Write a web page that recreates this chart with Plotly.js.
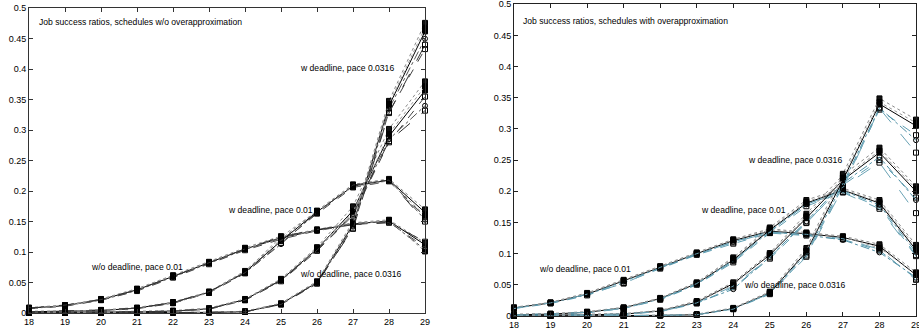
<!DOCTYPE html>
<html>
<head>
<meta charset="utf-8">
<script src="https://cdn.plot.ly/plotly-3.0.1.min.js"></script>
<style>html,body{margin:0;padding:0;background:#fff;}#chart{width:919px;height:334px;}</style>
</head>
<body>
<div id="chart"></div>
<script>
// ---------- DATA ----------
const xValues = [18, 19, 20, 21, 22, 23, 24, 25, 26, 27, 28, 29];
const yTickVals = [0, 0.05, 0.1, 0.15, 0.2, 0.25, 0.3, 0.35, 0.4, 0.45, 0.5];
const yTickText = ["0", "0.05", "0.1", "0.15", "0.2", "0.25", "0.3", "0.35", "0.4", "0.45", "0.5"];
const xTickVals = [18, 19, 20, 21, 22, 23, 24, 25, 26, 27, 28, 29];
const xTickText = ["18", "19", "20", "21", "22", "23", "24", "25", "26", "27", "28", "29"];

const leftTitle = "Job success ratios, schedules w/o overapproximation";
const rightTitle = "Job success ratios, schedules with overapproximation";

// Left panel: schedules w/o overapproximation (several runs per configuration)
const leftWoDeadline001 = [
  [0.008,0.012,0.022,0.038,0.060,0.082,0.105,0.123,0.136,0.146,0.151,0.112],
  [0.007,0.011,0.021,0.036,0.058,0.080,0.103,0.121,0.135,0.145,0.149,0.108],
  [0.009,0.013,0.023,0.040,0.062,0.084,0.107,0.126,0.137,0.148,0.153,0.115],
  [0.008,0.012,0.021,0.037,0.059,0.081,0.104,0.124,0.135,0.147,0.150,0.104],
  [0.007,0.012,0.022,0.039,0.061,0.083,0.106,0.122,0.136,0.146,0.152,0.101],
  [0.008,0.013,0.022,0.038,0.060,0.082,0.105,0.125,0.137,0.145,0.148,0.117]
];
const leftWDeadline001 = [
  [0.002,0.003,0.004,0.008,0.017,0.034,0.067,0.118,0.166,0.208,0.218,0.165],
  [0.002,0.002,0.004,0.007,0.016,0.033,0.065,0.115,0.163,0.206,0.216,0.158],
  [0.003,0.003,0.005,0.009,0.018,0.035,0.069,0.121,0.168,0.211,0.220,0.170],
  [0.002,0.003,0.004,0.008,0.016,0.034,0.066,0.113,0.165,0.209,0.219,0.153],
  [0.002,0.003,0.004,0.008,0.017,0.033,0.068,0.125,0.167,0.207,0.217,0.160],
  [0.002,0.003,0.005,0.008,0.017,0.035,0.066,0.119,0.164,0.210,0.218,0.150]
];
const leftWoDeadline0316 = [
  [0.001,0.001,0.002,0.002,0.003,0.007,0.022,0.054,0.105,0.168,0.290,0.365],
  [0.001,0.001,0.001,0.002,0.003,0.006,0.021,0.052,0.102,0.160,0.280,0.355],
  [0.001,0.001,0.002,0.003,0.004,0.008,0.023,0.056,0.108,0.175,0.302,0.380],
  [0.001,0.001,0.002,0.002,0.003,0.007,0.022,0.053,0.104,0.163,0.285,0.340],
  [0.001,0.001,0.002,0.002,0.003,0.007,0.022,0.055,0.106,0.166,0.294,0.372],
  [0.001,0.001,0.002,0.002,0.003,0.007,0.021,0.054,0.103,0.162,0.282,0.332]
];
const leftWDeadline0316 = [
  [0,0,0,0,0.001,0.001,0.002,0.015,0.050,0.145,0.340,0.462],
  [0,0,0,0,0.001,0.001,0.002,0.014,0.048,0.140,0.330,0.433],
  [0,0,0,0,0.001,0.001,0.003,0.016,0.052,0.150,0.348,0.476],
  [0,0,0,0,0.001,0.001,0.002,0.015,0.049,0.142,0.335,0.450],
  [0,0,0,0,0.001,0.001,0.002,0.015,0.051,0.147,0.343,0.468],
  [0,0,0,0,0.000,0.001,0.002,0.014,0.050,0.138,0.328,0.440]
];

// Right panel: schedules with overapproximation
const rightWoDeadline001 = [
  [0.013,0.021,0.035,0.056,0.078,0.100,0.121,0.136,0.132,0.126,0.112,0.066],
  [0.012,0.020,0.033,0.053,0.076,0.098,0.116,0.133,0.129,0.123,0.105,0.060],
  [0.014,0.022,0.037,0.058,0.080,0.102,0.123,0.140,0.134,0.128,0.115,0.070],
  [0.013,0.021,0.034,0.055,0.077,0.099,0.119,0.135,0.130,0.122,0.102,0.062],
  [0.013,0.021,0.036,0.057,0.079,0.101,0.122,0.138,0.133,0.127,0.109,0.068],
  [0.012,0.021,0.035,0.052,0.078,0.100,0.118,0.134,0.131,0.124,0.107,0.058]
];
const rightWDeadline001 = [
  [0.002,0.003,0.006,0.013,0.028,0.052,0.090,0.138,0.181,0.202,0.181,0.106],
  [0.002,0.003,0.005,0.012,0.026,0.050,0.086,0.133,0.176,0.199,0.175,0.098],
  [0.003,0.004,0.007,0.014,0.029,0.054,0.094,0.142,0.186,0.205,0.186,0.114],
  [0.002,0.003,0.006,0.013,0.027,0.051,0.088,0.136,0.179,0.201,0.178,0.102],
  [0.002,0.003,0.006,0.013,0.028,0.053,0.092,0.140,0.183,0.203,0.183,0.110],
  [0.002,0.003,0.006,0.012,0.027,0.052,0.089,0.135,0.180,0.198,0.172,0.096]
];
const rightWoDeadline0316 = [
  [0.001,0.001,0.002,0.003,0.008,0.022,0.052,0.098,0.157,0.218,0.262,0.200],
  [0.001,0.001,0.002,0.003,0.007,0.020,0.046,0.092,0.149,0.210,0.250,0.190],
  [0.001,0.002,0.003,0.004,0.009,0.024,0.054,0.101,0.164,0.226,0.270,0.208],
  [0.001,0.001,0.002,0.003,0.008,0.021,0.043,0.095,0.152,0.213,0.255,0.186],
  [0.001,0.001,0.002,0.003,0.008,0.023,0.050,0.099,0.160,0.221,0.265,0.204],
  [0.001,0.001,0.002,0.003,0.007,0.021,0.048,0.094,0.150,0.207,0.246,0.165]
];
const rightWDeadline0316 = [
  [0,0,0,0,0.001,0.002,0.012,0.037,0.103,0.218,0.340,0.305],
  [0,0,0,0,0.001,0.002,0.011,0.035,0.097,0.208,0.331,0.290],
  [0,0,0,0,0.001,0.003,0.013,0.039,0.109,0.228,0.349,0.315],
  [0,0,0,0,0.001,0.002,0.012,0.036,0.100,0.212,0.334,0.282],
  [0,0,0,0,0.001,0.002,0.012,0.038,0.105,0.222,0.343,0.310],
  [0,0,0,0,0.001,0.002,0.011,0.036,0.095,0.205,0.333,0.262]
];

// label texts and anchor points (data coordinates)
const leftLabels = [
  {text: "w deadline, pace 0.0316", x: 25.5, y: 0.402},
  {text: "w deadline, pace 0.01", x: 23.5, y: 0.169},
  {text: "w/o deadline, pace 0.01", x: 19.69, y: 0.0754},
  {text: "w/o deadline, pace 0.0316", x: 25.5, y: 0.064}
];
const rightLabels = [
  {text: "w deadline, pace 0.0316", x: 24.38, y: 0.2496},
  {text: "w deadline, pace 0.01", x: 23.1, y: 0.1696},
  {text: "w/o deadline, pace 0.01", x: 18.66, y: 0.0752},
  {text: "w/o deadline, pace 0.0316", x: 24.27, y: 0.0496}
];

// ---------- STYLES ----------
const leftStyles = [
  {color: "#000000", dash: "solid", symbol: "square", mc: "#000"},
  {color: "#444444", dash: "dash", symbol: "square-open", mc: "#000"},
  {color: "#8a8a8a", dash: "dot", symbol: "square", mc: "#111"},
  {color: "#555555", dash: "dashdot", symbol: "circle-open", mc: "#000"},
  {color: "#9a9a9a", dash: "dot", symbol: "square", mc: "#000"},
  {color: "#333333", dash: "longdash", symbol: "square-open", mc: "#000"}
];
const rightStyles = [
  {color: "#000000", dash: "solid", symbol: "square", mc: "#000"},
  {color: "#5f9fb3", dash: "dash", symbol: "square-open", mc: "#000"},
  {color: "#8a8a8a", dash: "dot", symbol: "square", mc: "#111"},
  {color: "#4f8fa5", dash: "dashdot", symbol: "circle-open", mc: "#000"},
  {color: "#9a9a9a", dash: "dot", symbol: "square", mc: "#000"},
  {color: "#6aa3b5", dash: "longdash", symbol: "square-open", mc: "#000"}
];

const traces = [];
function addGroup(runs, styles, xa, ya) {
  runs.forEach((ys, i) => {
    const s = styles[i % styles.length];
    traces.push({
      x: xValues, y: ys, xaxis: xa, yaxis: ya,
      type: "scatter", mode: "lines+markers",
      line: {color: s.color, width: 1, dash: s.dash},
      marker: {symbol: s.symbol, size: 5, color: s.mc, line: {color: "#000", width: 1}},
      cliponaxis: false, hoverinfo: "skip", showlegend: false
    });
  });
}
[leftWoDeadline001, leftWDeadline001, leftWoDeadline0316, leftWDeadline0316].forEach(g => addGroup(g, leftStyles, "x", "y"));
[rightWoDeadline001, rightWDeadline001, rightWoDeadline0316, rightWDeadline0316].forEach(g => addGroup(g, rightStyles, "x2", "y2"));

const FONT = "Liberation Sans, Arial, Helvetica, sans-serif";
function axisX(domain, anchor, lc) {
  return {
    domain: domain, anchor: anchor, range: [18, 29], autorange: false,
    tickmode: "array", tickvals: xTickVals, ticktext: xTickText,
    ticks: "inside", ticklen: 4, tickcolor: lc, tickwidth: 1,
    showline: true, linecolor: lc, linewidth: 1, mirror: "ticks",
    showgrid: false, zeroline: false, fixedrange: true,
    ticklabeloverflow: "allow",
    tickfont: {family: FONT, size: 9, color: "#000"}
  };
}
function axisY(domain, anchor, lc) {
  return {
    domain: domain, anchor: anchor, range: [0, 0.5004], autorange: false,
    tickmode: "array", tickvals: yTickVals, ticktext: yTickText,
    ticks: "inside", ticklen: 4, tickcolor: lc, tickwidth: 1,
    showline: true, linecolor: lc, linewidth: 1, mirror: "ticks",
    showgrid: false, zeroline: false, fixedrange: true,
    ticklabeloverflow: "allow",
    tickfont: {family: FONT, size: 9, color: "#000"}
  };
}

const annotations = [];
function addText(text, x, y, xref, yref) {
  annotations.push({
    text: text, x: x, y: y, xref: xref, yref: yref,
    xanchor: "left", yanchor: "middle", showarrow: false,
    font: {family: FONT, size: 8.6, color: "#000"}, borderpad: 0
  });
}
addText(leftTitle, 18.25, 0.477, "x", "y");
addText(rightTitle, 18.22, 0.4736, "x2", "y2");
leftLabels.forEach(l => addText(l.text, l.x, l.y, "x", "y"));
rightLabels.forEach(l => addText(l.text, l.x, l.y, "x2", "y2"));

const layout = {
  width: 919, height: 334, autosize: false,
  margin: {l: 0, r: 0, t: 0, b: 0},
  paper_bgcolor: "#fff", plot_bgcolor: "#fff",
  showlegend: false,
  xaxis: axisX([0.03156, 0.46246], "y", "#333"),
  yaxis: axisY([0.06287, 0.97605], "x", "#333"),
  xaxis2: axisX([0.55930, 0.99674], "y2", "#222"),
  yaxis2: axisY([0.05389, 0.98802], "x2", "#222"),
  annotations: annotations
};

Plotly.newPlot("chart", traces, layout, {staticPlot: true, displayModeBar: false});
</script>
</body>
</html>
